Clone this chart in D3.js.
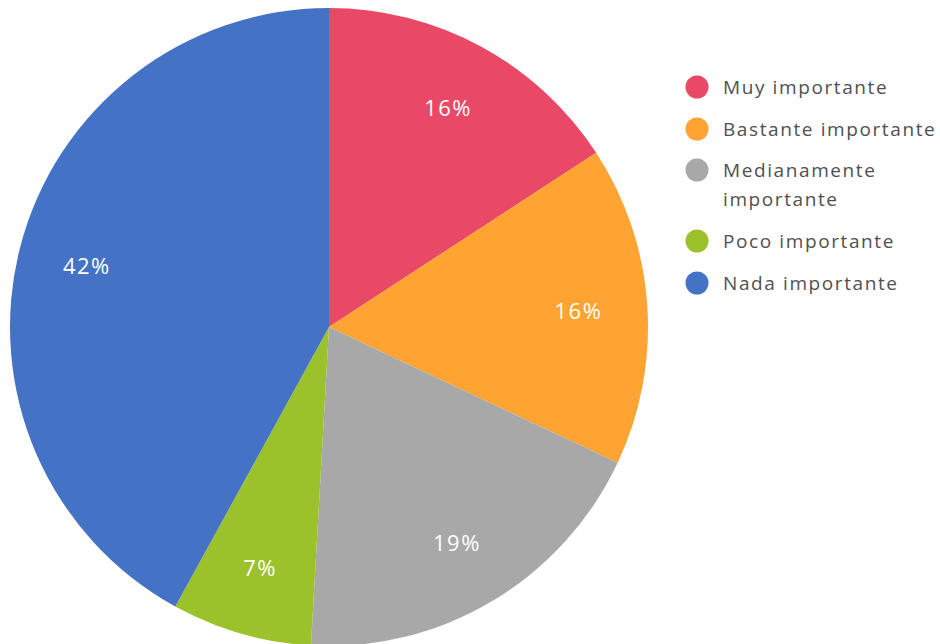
<!DOCTYPE html>
<html><head><meta charset="utf-8">
<script src="https://cdn.jsdelivr.net/npm/d3@7"></script>
<style>html,body{margin:0;padding:0;background:#fff;overflow:hidden}</style>
</head><body>
<svg id="c" width="940" height="644"></svg>
<script>
const categories = ["Muy importante","Bastante importante","Medianamente importante","Poco importante","Nada importante"];
const legendLines = [["Muy importante"],["Bastante importante"],["Medianamente","importante"],["Poco importante"],["Nada importante"]];
const values = [15.8, 16.2, 18.9, 7.1, 42.0];
const labels = ["16%","16%","19%","7%","42%"];
const colors = ["#E94866","#FFA333","#A8A8A8","#9BC22A","#4472C4"];

const svg = d3.select("#c");
const cx = 329, cy = 327, R = 319, labelR = 250;
const pie = d3.pie().sort(null).value(d => d.v);
const data = pie(categories.map((c,i)=>({c, v: values[i], l: labels[i]})));
const arc = d3.arc().innerRadius(0).outerRadius(R);
const lArc = d3.arc().innerRadius(labelR).outerRadius(labelR);
const g = svg.append("g").attr("transform", `translate(${cx},${cy})`);
g.selectAll("path").data(data).join("path")
  .attr("d", arc).attr("fill", (d,i)=>colors[i]);
g.selectAll("text").data(data).join("text")
  .attr("transform", d => `translate(${lArc.centroid(d)})`)
  .attr("text-anchor","middle").attr("dominant-baseline","central")
  .attr("fill","#fff").style("font-family","'Open Sans', sans-serif")
  .style("font-size","22px").style("letter-spacing","1.5px")
  .text(d => d.data.l);

const legY = [87, 129, 170, 241, 283];
const lg = svg.append("g");
categories.forEach((c,i)=>{
  const row = lg.append("g").attr("transform", `translate(697,${legY[i]})`);
  row.append("circle").attr("r", 11.5).attr("fill", colors[i]);
  const t = row.append("text").attr("x", 26).attr("fill","#505050")
    .style("font-family","'Open Sans', sans-serif").style("font-size","19px")
    .style("letter-spacing","1.6px");
  legendLines[i].forEach((ln,j)=>{
    t.append("tspan").attr("x",26).attr("y", j*29).attr("dy","0.35em").text(ln);
  });
});
</script>
</body></html>
